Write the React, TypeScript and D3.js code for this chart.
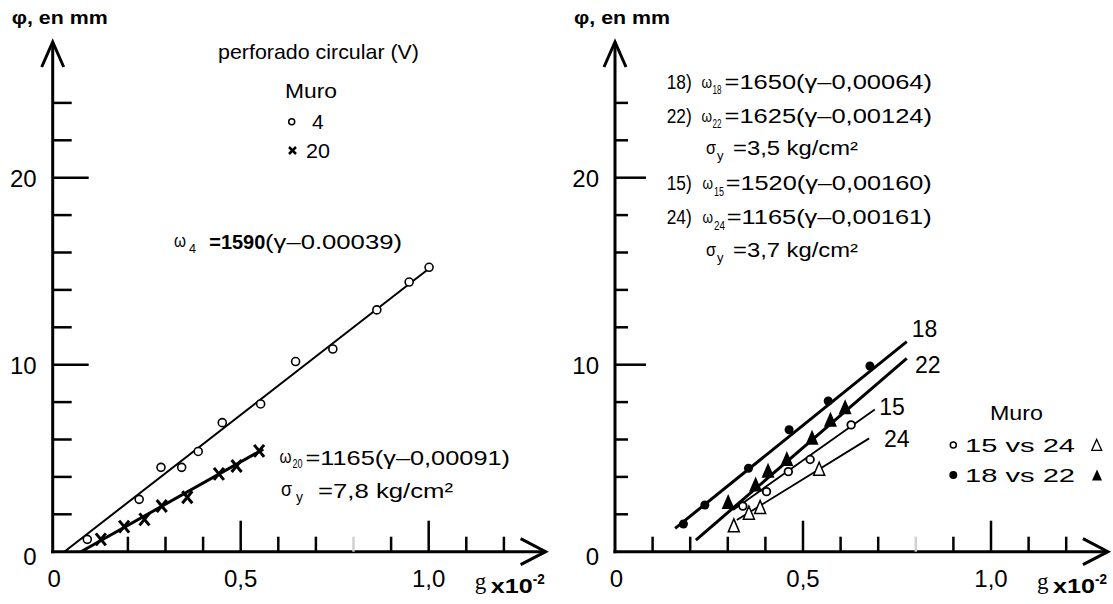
import React from "react";
import * as d3 from "d3";

// ---------- data ----------
// Left panel: perforado circular (V)
const wall4X = [0.092, 0.23, 0.288, 0.343, 0.387, 0.451, 0.553, 0.646, 0.745, 0.862, 0.948, 1.001];
const wall4Y = [0.66, 2.8, 4.51, 4.51, 5.36, 6.9, 7.9, 10.17, 10.84, 12.93, 14.42, 15.21];
const wall20X = [0.128, 0.19, 0.244, 0.29, 0.358, 0.442, 0.489, 0.549];
const wall20Y = [0.66, 1.34, 1.73, 2.44, 2.91, 4.16, 4.58, 5.39];
const fit4X = [0.031, 1.008];
const fit4Y = [0, 15.25];
const fit20X = [0.075, 0.56];
const fit20Y = [0, 5.48];

// Right panel
const wall18X = [0.182, 0.239, 0.355, 0.463, 0.567, 0.678];
const wall18Y = [1.48, 2.5, 4.46, 6.52, 8.06, 9.93];
const wall22X = [0.301, 0.374, 0.407, 0.457, 0.524, 0.573, 0.612];
const wall22Y = [2.6, 3.54, 4.28, 4.9, 6.04, 7.0, 7.67];
const wall15X = [0.34, 0.403, 0.461, 0.519, 0.628];
const wall15Y = [2.44, 3.21, 4.28, 4.93, 6.78];
const wall24X = [0.316, 0.356, 0.386, 0.543];
const wall24Y = [1.34, 2.02, 2.32, 4.37];
const fit18X = [0.16, 0.776];
const fit18Y = [1.25, 11.23];
const fit22X = [0.215, 0.776];
const fit22Y = [0.62, 10.34];
const fit15X = [0.314, 0.691];
const fit15Y = [2.23, 7.61];
const fit24X = [0.324, 0.676];
const fit24Y = [1.69, 6.06];

// Axes
const yTicks = [2, 4, 6, 8, 10, 12, 14, 16, 18, 20, 22, 24];
const yMajor = [10, 20];
const yLabels = ["0", "10", "20"];
const yLabelVals = [0, 10, 20];
const xTicksLeft = [0.2, 0.3, 0.4, 0.5, 0.6, 0.7, 0.8, 0.9, 1.0, 1.1, 1.2];
const xTicksRight = [0.1, 0.2, 0.3, 0.4, 0.5, 0.6, 0.7, 0.8, 0.9, 1.0, 1.1, 1.2];
const xMajor = [0.5, 1.0];
const xFaint = [0.8];
const xLabels = ["0", "0,5", "1,0"];
const xLabelVals = [0, 0.5, 1.0];
const xArrowEnd = 1.311;

const SANS = "'Liberation Sans', Arial, Helvetica, sans-serif";
const SERIF = "'Liberation Serif', 'Times New Roman', serif";

const yS = d3.scaleLinear().domain([0, 10]).range([551.7, 364.7]);
const xL = d3.scaleLinear().domain([0, 1]).range([52.7, 428.7]);
const xR = d3.scaleLinear().domain([0, 1]).range([615, 991]);

function T({ x, y, children, size = 20, w, bold, anchor, family }: any) {
  return (
    <text
      x={x}
      y={y}
      fontSize={size}
      fontFamily={family || SANS}
      fontWeight={bold ? "bold" : "normal"}
      textAnchor={anchor || "start"}
      textLength={w}
      lengthAdjust={w ? "spacingAndGlyphs" : undefined}
      fill="#000"
    >
      {children}
    </text>
  );
}

function tri(cx: number, cy: number, w: number, h: number) {
  const p = d3.path();
  p.moveTo(cx, cy - h * 0.6);
  p.lineTo(cx + w / 2, cy + h * 0.4);
  p.lineTo(cx - w / 2, cy + h * 0.4);
  p.closePath();
  return p.toString();
}

function Axes({ xs, xTicks, yTickLen, yMajorLen }: any) {
  const x0 = xs(0);
  const y0 = yS(0);
  const yTop = 42;
  const xEnd = xs(xArrowEnd);
  return (
    <g stroke="#000" fill="none" strokeLinecap="butt">
      <line x1={x0} y1={y0 + 1.5} x2={x0} y2={yTop} strokeWidth={3} />
      <polyline points={`${x0 - 11},${yTop + 25} ${x0},${yTop} ${x0 + 11},${yTop + 25}`} strokeWidth={3} />
      <line x1={x0 - 1.5} y1={y0} x2={xEnd} y2={y0} strokeWidth={3} />
      <polyline points={`${xEnd - 25},${y0 - 13} ${xEnd},${y0} ${xEnd - 25},${y0 + 13}`} strokeWidth={3} />
      {yTicks.map((v) => (
        <line key={"y" + v} x1={x0} x2={x0 + (yMajor.includes(v) ? yMajorLen : yTickLen)} y1={yS(v)} y2={yS(v)} strokeWidth={2.5} />
      ))}
      {xTicks.map((v: number) => (
        <line
          key={"x" + v}
          x1={xs(v)}
          x2={xs(v)}
          y1={y0}
          y2={y0 - (xMajor.includes(v) ? 31 : 15)}
          strokeWidth={2.5}
          stroke={xFaint.includes(v) ? "#d0d0d0" : "#000"}
        />
      ))}
    </g>
  );
}

function AxisText({ xs }: any) {
  const x0 = xs(0);
  return (
    <g>
      {yLabelVals.map((v, i) => (
        <T key={"yl" + i} x={x0 - 16} y={yS(v) + (v === 0 ? 13 : 9)} size={24} anchor="end">
          {yLabels[i]}
        </T>
      ))}
      {xLabelVals.map((v, i) => (
        <T key={"xl" + i} x={xs(v) + (v === 0 ? 1.5 : 0)} y={587} size={24} anchor="middle">
          {xLabels[i]}
        </T>
      ))}
      <T x={xs(1) + 46} y={589} size={23} family={SERIF}>g</T>
      <T x={xs(1) + 62} y={593} size={21} bold w={42}>x10</T>
      <T x={xs(1) + 104} y={584} size={14} bold w={12}>-2</T>
      <T x={x0 - 41} y={24} size={18} bold w={96}>φ, en mm</T>
    </g>
  );
}

function fitLine(xs: any, X: number[], Y: number[], sw: number) {
  return <line x1={xs(X[0])} y1={yS(Y[0])} x2={xs(X[1])} y2={yS(Y[1])} stroke="#000" strokeWidth={sw} />;
}

export default function App() {
  return (
    <svg width={1113} height={604} style={{ position: "absolute", left: 0, top: 0, background: "#fff" }}>
      <rect x={0} y={0} width={1113} height={604} fill="#fff" />

      {/* ---------- LEFT PANEL ---------- */}
      <Axes xs={xL} xTicks={xTicksLeft} yTickLen={19} yMajorLen={36} />
      <AxisText xs={xL} />
      {fitLine(xL, fit4X, fit4Y, 2)}
      {fitLine(xL, fit20X, fit20Y, 3)}
      {wall4X.map((v, i) => (
        <circle key={"c4" + i} cx={xL(v)} cy={yS(wall4Y[i])} r={4} fill="#fff" stroke="#000" strokeWidth={1.6} />
      ))}
      {wall20X.map((v, i) => {
        const cx = xL(v);
        const cy = yS(wall20Y[i]);
        return (
          <g key={"x20" + i} stroke="#000" strokeWidth={3}>
            <line x1={cx - 5} y1={cy - 6} x2={cx + 5} y2={cy + 6} />
            <line x1={cx + 5} y1={cy - 6} x2={cx - 5} y2={cy + 6} />
          </g>
        );
      })}

      <T x={218} y={59} size={21} w={201}>perforado circular (V)</T>
      <T x={285} y={98} size={21} w={52}>Muro</T>
      <circle cx={291.7} cy={121.7} r={3} fill="#fff" stroke="#000" strokeWidth={1.5} />
      <T x={312} y={129} size={21}>4</T>
      <g stroke="#000" strokeWidth={2.5}>
        <line x1={289} y1={147} x2={296} y2={154} />
        <line x1={296} y1={147} x2={289} y2={154} />
      </g>
      <T x={306} y={158} size={21} w={24}>20</T>

      <T x={174} y={247} size={18} w={12}>ω</T>
      <T x={189} y={253} size={13} w={7}>4</T>
      <T x={209.3} y={249} size={21} bold w={56}>=1590</T>
      <T x={265} y={249} size={21} w={137}>(γ–0.00039)</T>

      <T x={279.5} y={463} size={18} w={12}>ω</T>
      <T x={292.5} y={468} size={13} w={10}>20</T>
      <T x={305.5} y={465} size={21} w={204.5}>=1165(γ–0,00091)</T>
      <T x={281} y={496} size={20} w={11}>σ</T>
      <T x={296} y={502} size={14} w={7}>y</T>
      <T x={318} y={498} size={21} w={135}>=7,8 kg/cm²</T>

      {/* ---------- RIGHT PANEL ---------- */}
      <Axes xs={xR} xTicks={xTicksRight} yTickLen={13} yMajorLen={31} />
      <AxisText xs={xR} />
      {fitLine(xR, fit18X, fit18Y, 3)}
      {fitLine(xR, fit22X, fit22Y, 3)}
      {fitLine(xR, fit15X, fit15Y, 1.8)}
      {fitLine(xR, fit24X, fit24Y, 1.8)}
      {wall18X.map((v, i) => (
        <circle key={"c18" + i} cx={xR(v)} cy={yS(wall18Y[i])} r={4.5} fill="#000" />
      ))}
      {wall22X.map((v, i) => (
        <path key={"t22" + i} d={tri(xR(v), yS(wall22Y[i]), 13, 15)} fill="#000" />
      ))}
      {wall15X.map((v, i) => (
        <circle key={"c15" + i} cx={xR(v)} cy={yS(wall15Y[i])} r={3.8} fill="#fff" stroke="#000" strokeWidth={1.8} />
      ))}
      {wall24X.map((v, i) => (
        <path key={"t24" + i} d={tri(xR(v), yS(wall24Y[i]), 11, 13)} fill="#fff" stroke="#000" strokeWidth={1.5} />
      ))}

      <T x={911.7} y={336.7} size={23}>18</T>
      <T x={915} y={372.7} size={23}>22</T>
      <T x={879.3} y={415} size={23}>15</T>
      <T x={884} y={446.7} size={23}>24</T>

      <T x={990} y={420} size={21} w={53}>Muro</T>
      <circle cx={953.3} cy={445} r={3} fill="#fff" stroke="#000" strokeWidth={1.5} />
      <T x={965} y={451.7} size={19} w={110}>15 vs 24</T>
      <path d={tri(1096.7, 446, 10, 11)} fill="#fff" stroke="#000" strokeWidth={1.3} />
      <circle cx={953.3} cy={475} r={4} fill="#000" />
      <T x={965} y={481.7} size={19} w={110}>18 vs 22</T>
      <path d={tri(1097, 476, 10, 11)} fill="#000" />

      {/* equations */}
      <T x={666.7} y={89} size={19.5} w={25}>18)</T>
      <T x={701.5} y={88} size={16} w={10.5}>ω</T>
      <T x={712.5} y={94} size={12} w={9}>18</T>
      <T x={724.5} y={89} size={19.5} w={207.5}>=1650(γ–0,00064)</T>

      <T x={666.7} y={122.7} size={19.5} w={25}>22)</T>
      <T x={701.5} y={121.7} size={16} w={10.5}>ω</T>
      <T x={712.5} y={127.7} size={12} w={9}>22</T>
      <T x={724.5} y={122.7} size={19.5} w={207.5}>=1625(γ–0,00124)</T>

      <T x={706} y={154} size={18} w={10}>σ</T>
      <T x={717} y={160} size={13} w={6.5}>y</T>
      <T x={733} y={155} size={19.5} w={125}>=3,5 kg/cm²</T>

      <T x={666.7} y={190} size={19.5} w={25}>15)</T>
      <T x={702.5} y={189} size={16} w={10.5}>ω</T>
      <T x={714} y={196} size={12} w={10}>15</T>
      <T x={725.7} y={190} size={19.5} w={206}>=1520(γ–0,00160)</T>

      <T x={666.7} y={224} size={19.5} w={25}>24)</T>
      <T x={702.5} y={223} size={16} w={10.5}>ω</T>
      <T x={714} y={230} size={12} w={11}>24</T>
      <T x={726.7} y={224} size={19.5} w={205}>=1165(γ–0,00161)</T>

      <T x={706} y={256} size={18} w={10}>σ</T>
      <T x={717} y={262} size={13} w={6.5}>y</T>
      <T x={733} y={256.7} size={19.5} w={125}>=3,7 kg/cm²</T>
    </svg>
  );
}
